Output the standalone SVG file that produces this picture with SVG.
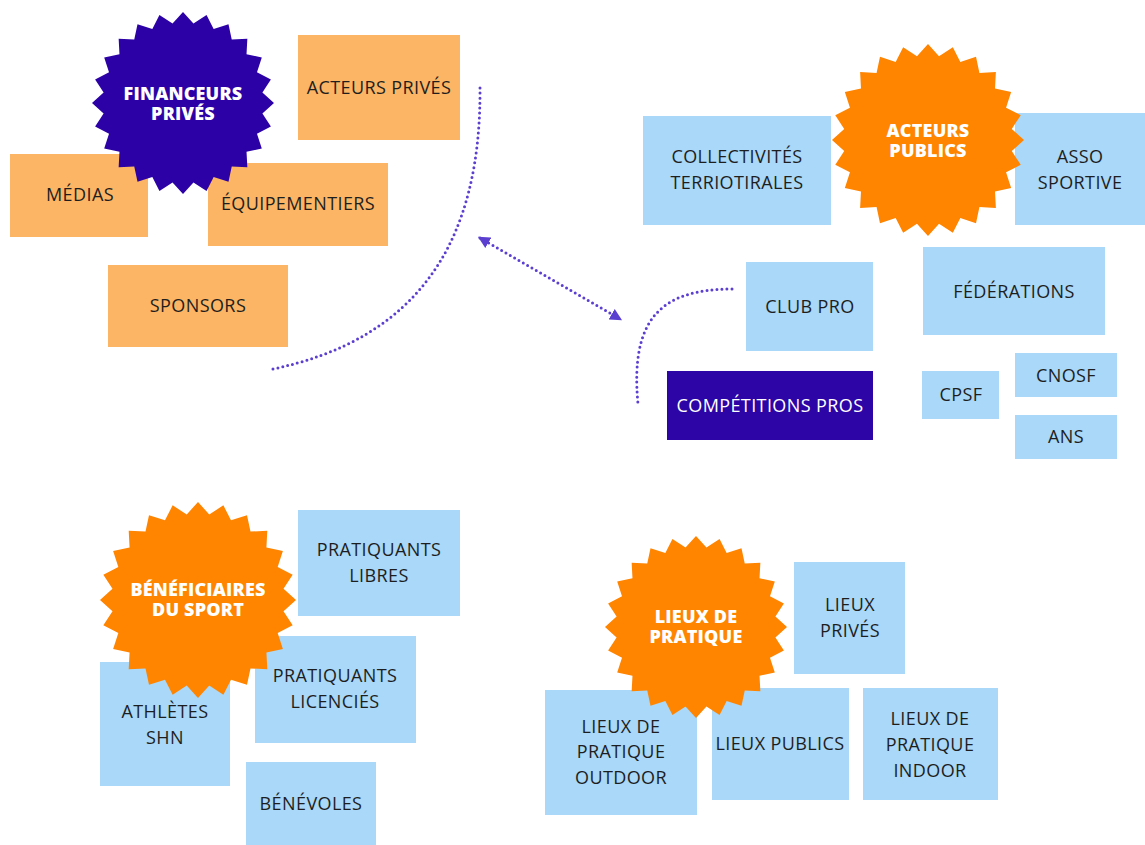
<svg xmlns="http://www.w3.org/2000/svg" xmlns:xlink="http://www.w3.org/1999/xlink" width="1145" height="845" viewBox="0 0 1145 845">
<style>
.bo{fill:#FBB564}
.bb{fill:#A9D8F8}
.bd{fill:#2D05A7}
.t{font-family:"Open Sans","Liberation Sans",sans-serif;font-size:18px;letter-spacing:0.4px;fill:#1E1E1E;text-anchor:middle}
.tw{fill:#FFFFFF}
.st{font-family:"Open Sans","Liberation Sans",sans-serif;font-size:18px;font-weight:800;letter-spacing:0.2px;fill:#FFFFFF;text-anchor:middle}
.so{fill:#FF8400}
.sp{fill:#2C02A6}
.dot{fill:none;stroke:#5B3FD1;stroke-width:3;stroke-linecap:round;stroke-dasharray:0 5}
</style>
<defs>
<polygon id="star" points="100,0 87.25,11.49 96.59,25.88 81.30,33.68 86.60,50 69.81,53.57 70.71,70.71 53.57,69.81 50,86.60 33.68,81.30 25.88,96.59 11.49,87.25 0,100 -11.49,87.25 -25.88,96.59 -33.68,81.30 -50,86.60 -53.57,69.81 -70.71,70.71 -69.81,53.57 -86.60,50 -81.30,33.68 -96.59,25.88 -87.25,11.49 -100,0 -87.25,-11.49 -96.59,-25.88 -81.30,-33.68 -86.60,-50 -69.81,-53.57 -70.71,-70.71 -53.57,-69.81 -50,-86.60 -33.68,-81.30 -25.88,-96.59 -11.49,-87.25 0,-100 11.49,-87.25 25.88,-96.59 33.68,-81.30 50,-86.60 53.57,-69.81 70.71,-70.71 69.81,-53.57 86.60,-50 81.30,-33.68 96.59,-25.88 87.25,-11.49"/>
<marker id="ah" viewBox="0 0 10 10" refX="8" refY="5" markerWidth="4" markerHeight="4" orient="auto-start-reverse" markerUnits="strokeWidth">
<path d="M0,0 L10,5 L0,10 Z" fill="#5B3FD1"/>
</marker>
</defs>

<g id="connectors">
<path class="dot" d="M480,88 C481,240 420,340 268,370"/>
<path class="dot" d="M480,238 L620,319" marker-start="url(#ah)" marker-end="url(#ah)"/>
<path class="dot" d="M732,289 C660,289 630,320 638,404"/>
</g>

<!-- Financeurs privés cluster -->
<g id="acteurs-prives"><rect class="bo" x="298" y="35" width="162" height="105"/><text class="t" x="379" y="94">ACTEURS PRIVÉS</text></g>
<g id="medias"><rect class="bo" x="10" y="154" width="138" height="83"/><text class="t" x="80" y="201">MÉDIAS</text></g>
<g id="equipementiers"><rect class="bo" x="208" y="163" width="180" height="83"/><text class="t" x="298" y="210">ÉQUIPEMENTIERS</text></g>
<g id="sponsors"><rect class="bo" x="108" y="265" width="180" height="82"/><text class="t" x="198" y="312">SPONSORS</text></g>
<g id="financeurs-prives"><use xlink:href="#star" class="sp" transform="translate(183,103) scale(0.91)"/><text class="st" x="183" y="100">FINANCEURS</text><text class="st" x="183" y="120">PRIVÉS</text></g>

<!-- Acteurs publics cluster -->
<g id="collectivites"><rect class="bb" x="643" y="116" width="188" height="109"/><text class="t" x="737" y="163">COLLECTIVITÉS</text><text class="t" x="737" y="189">TERRIOTIRALES</text></g>
<g id="asso-sportive"><rect class="bb" x="1015" y="113" width="130" height="112"/><text class="t" x="1080" y="163">ASSO</text><text class="t" x="1080" y="189">SPORTIVE</text></g>
<g id="acteurs-publics"><use xlink:href="#star" class="so" transform="translate(928,140) scale(0.96)"/><text class="st" x="928" y="137">ACTEURS</text><text class="st" x="928" y="157">PUBLICS</text></g>
<g id="federations"><rect class="bb" x="923" y="247" width="182" height="88"/><text class="t" x="1014" y="298">FÉDÉRATIONS</text></g>
<g id="club-pro"><rect class="bb" x="746" y="262" width="127" height="89"/><text class="t" x="810" y="313">CLUB PRO</text></g>
<g id="competitions-pros"><rect class="bd" x="667" y="371" width="206" height="69"/><text class="t tw" x="770" y="412">COMPÉTITIONS PROS</text></g>
<g id="cpsf"><rect class="bb" x="922" y="371" width="77" height="48"/><text class="t" x="961" y="401">CPSF</text></g>
<g id="cnosf"><rect class="bb" x="1015" y="353" width="102" height="44"/><text class="t" x="1066" y="382">CNOSF</text></g>
<g id="ans"><rect class="bb" x="1015" y="415" width="102" height="44"/><text class="t" x="1066" y="443">ANS</text></g>

<!-- Bénéficiaires cluster -->
<g id="pratiquants-libres"><rect class="bb" x="298" y="510" width="162" height="106"/><text class="t" x="379" y="556">PRATIQUANTS</text><text class="t" x="379" y="582">LIBRES</text></g>
<g id="athletes-shn"><rect class="bb" x="100" y="662" width="130" height="124"/><text class="t" x="165" y="718">ATHLÈTES</text><text class="t" x="165" y="744">SHN</text></g>
<g id="pratiquants-licencies"><rect class="bb" x="255" y="636" width="161" height="107"/><text class="t" x="335" y="682">PRATIQUANTS</text><text class="t" x="335" y="708">LICENCIÉS</text></g>
<g id="benevoles"><rect class="bb" x="246" y="762" width="130" height="83"/><text class="t" x="311" y="810">BÉNÉVOLES</text></g>
<g id="beneficiaires"><use xlink:href="#star" class="so" transform="translate(198,600) scale(0.98)"/><text class="st" x="198" y="596">BÉNÉFICIAIRES</text><text class="st" x="198" y="616">DU SPORT</text></g>

<!-- Lieux de pratique cluster -->
<g id="lieux-prives"><rect class="bb" x="794" y="562" width="111" height="112"/><text class="t" x="850" y="611">LIEUX</text><text class="t" x="850" y="637">PRIVÉS</text></g>
<g id="lieux-outdoor"><rect class="bb" x="545" y="690" width="152" height="125"/><text class="t" x="621" y="733">LIEUX DE</text><text class="t" x="621" y="758">PRATIQUE</text><text class="t" x="621" y="784">OUTDOOR</text></g>
<g id="lieux-publics"><rect class="bb" x="712" y="688" width="137" height="112"/><text class="t" x="780" y="750">LIEUX PUBLICS</text></g>
<g id="lieux-indoor"><rect class="bb" x="863" y="688" width="135" height="112"/><text class="t" x="930" y="725">LIEUX DE</text><text class="t" x="930" y="751">PRATIQUE</text><text class="t" x="930" y="777">INDOOR</text></g>
<g id="lieux-de-pratique"><use xlink:href="#star" class="so" transform="translate(696,627) scale(0.91)"/><text class="st" x="696" y="623">LIEUX DE</text><text class="st" x="696" y="643">PRATIQUE</text></g>
</svg>
